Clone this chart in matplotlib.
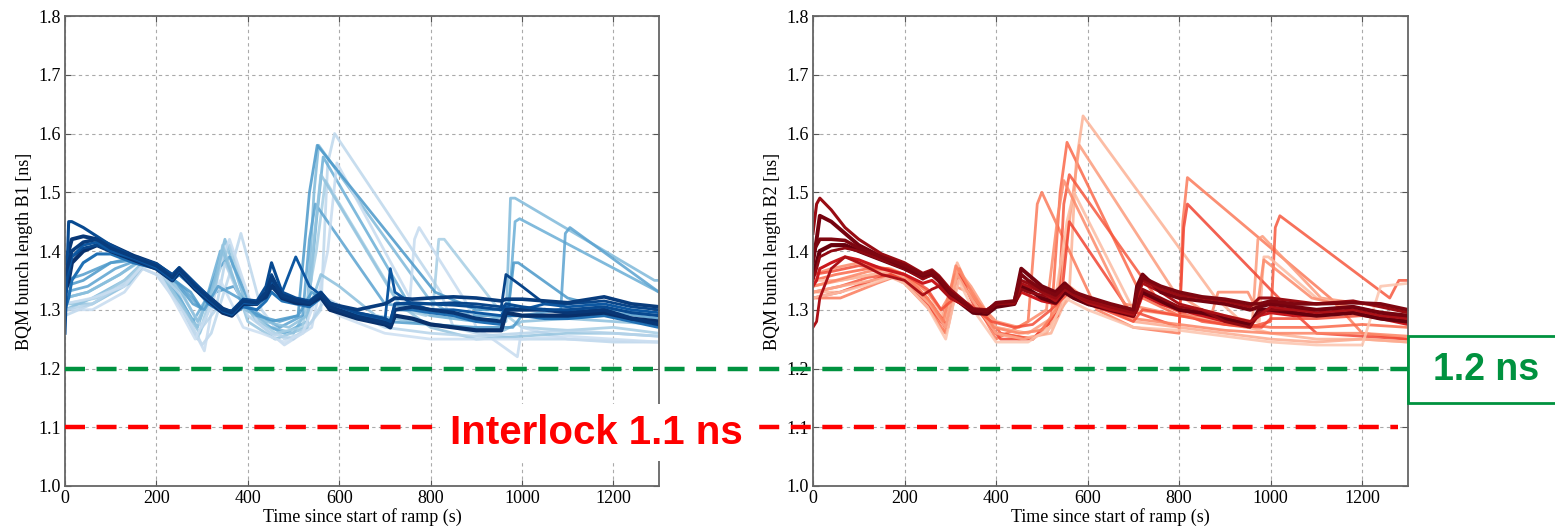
import matplotlib
matplotlib.use("Agg")
import matplotlib.pyplot as plt
from matplotlib.lines import Line2D
from matplotlib.patches import Rectangle

# ---- bunch length traces, beam 1 (time in s, length in ns) ----
b1_t = [0, 8, 15, 40, 70, 100, 150, 200, 235, 250, 285, 315, 345, 365, 390, 420, 440, 452, 475,
        505, 535, 560, 580, 640, 700, 712, 722, 760, 800, 850, 900, 955, 965, 1000, 1050, 1100,
        1180, 1240, 1300]
b1_d1 = [1.36, 1.38, 1.40, 1.415, 1.42, 1.405, 1.39, 1.375, 1.355, 1.37, 1.34, 1.32, 1.30, 1.295,
         1.315, 1.312, 1.33, 1.355, 1.325, 1.317, 1.312, 1.328, 1.31, 1.30, 1.31, 1.315, 1.32,
         1.318, 1.32, 1.322, 1.32, 1.315, 1.318, 1.318, 1.315, 1.312, 1.322, 1.31, 1.305]
b1_d2 = [1.33, 1.35, 1.38, 1.40, 1.41, 1.40, 1.385, 1.37, 1.35, 1.365, 1.335, 1.315, 1.295, 1.29,
         1.31, 1.31, 1.325, 1.345, 1.32, 1.312, 1.31, 1.322, 1.30, 1.285, 1.275, 1.27, 1.29,
         1.285, 1.275, 1.27, 1.265, 1.265, 1.295, 1.29, 1.29, 1.29, 1.295, 1.285, 1.28]
b1_d3 = [1.26, 1.45, 1.45, 1.44, 1.425, 1.41, 1.39, 1.378, 1.36, 1.372, 1.345, 1.322, 1.30, 1.298,
         1.318, 1.315, 1.34, 1.38, 1.33, 1.32, 1.315, 1.33, 1.312, 1.295, 1.285, 1.28, 1.31,
         1.312, 1.31, 1.308, 1.305, 1.30, 1.31, 1.305, 1.30, 1.30, 1.305, 1.295, 1.29]
b1_d4 = [1.35, 1.37, 1.39, 1.41, 1.415, 1.40, 1.388, 1.372, 1.352, 1.368, 1.338, 1.318, 1.298,
         1.292, 1.312, 1.31, 1.32, 1.35, 1.33, 1.39, 1.34, 1.325, 1.305, 1.29, 1.28, 1.37, 1.33,
         1.31, 1.30, 1.30, 1.295, 1.29, 1.305, 1.30, 1.31, 1.305, 1.31, 1.30, 1.295]
b1_d5 = [1.38, 1.40, 1.42, 1.425, 1.42, 1.41, 1.392, 1.378, 1.358, 1.37, 1.342, 1.322, 1.302,
         1.296, 1.316, 1.314, 1.322, 1.34, 1.322, 1.315, 1.31, 1.325, 1.305, 1.288, 1.278, 1.275,
         1.30, 1.305, 1.30, 1.295, 1.285, 1.28, 1.30, 1.30, 1.30, 1.295, 1.30, 1.285, 1.275]
b1_d6 = [1.34, 1.36, 1.39, 1.405, 1.41, 1.40, 1.386, 1.37, 1.35, 1.366, 1.336, 1.316, 1.297,
         1.292, 1.312, 1.31, 1.33, 1.36, 1.325, 1.315, 1.312, 1.33, 1.31, 1.295, 1.285, 1.28,
         1.31, 1.31, 1.31, 1.312, 1.31, 1.305, 1.36, 1.34, 1.31, 1.31, 1.315, 1.305, 1.30]
b1_m1 = [1.30, 1.32, 1.35, 1.38, 1.395, 1.395, 1.38, 1.37, 1.35, 1.36, 1.335, 1.31, 1.295, 1.29,
         1.305, 1.30, 1.315, 1.33, 1.315, 1.31, 1.305, 1.32, 1.30, 1.29, 1.282, 1.28, 1.30, 1.30,
         1.295, 1.29, 1.28, 1.275, 1.29, 1.29, 1.285, 1.285, 1.29, 1.28, 1.27]

b1_l1_t = [0, 60, 130, 170, 200, 260, 300, 320, 360, 385, 430, 480, 520, 560, 575, 590, 822, 850,
           900, 1000, 1100, 1200, 1300]
b1_l1_y = [1.29, 1.31, 1.34, 1.37, 1.36, 1.30, 1.24, 1.26, 1.36, 1.43, 1.30, 1.25, 1.26, 1.30,
           1.55, 1.60, 1.33, 1.27, 1.26, 1.25, 1.25, 1.245, 1.245]
b1_l2_t = [0, 60, 130, 170, 200, 250, 290, 330, 350, 400, 450, 500, 530, 545, 555, 795, 830, 900,
           965, 975, 985, 1290, 1300]
b1_l2_y = [1.30, 1.32, 1.35, 1.38, 1.37, 1.32, 1.27, 1.36, 1.42, 1.30, 1.27, 1.26, 1.30, 1.50,
           1.58, 1.32, 1.30, 1.28, 1.28, 1.49, 1.49, 1.35, 1.35]
b1_l3_t = [0, 50, 120, 165, 200, 245, 280, 310, 340, 380, 420, 480, 530, 550, 565, 760, 800, 900,
           970, 985, 995, 1300]
b1_l3_y = [1.32, 1.33, 1.36, 1.385, 1.375, 1.33, 1.28, 1.32, 1.40, 1.33, 1.28, 1.26, 1.28, 1.45,
           1.56, 1.30, 1.29, 1.28, 1.29, 1.45, 1.455, 1.33]
b1_l4_t = [0, 70, 140, 175, 200, 250, 290, 330, 360, 410, 460, 520, 550, 570, 740, 790, 805, 818,
           830, 950, 1000, 1100, 1200, 1300]
b1_l4_y = [1.31, 1.32, 1.355, 1.385, 1.37, 1.31, 1.25, 1.35, 1.41, 1.29, 1.26, 1.27, 1.40, 1.52,
           1.30, 1.29, 1.30, 1.42, 1.42, 1.30, 1.27, 1.265, 1.27, 1.26]
b1_l5_t = [0, 50, 110, 160, 200, 255, 300, 335, 360, 410, 470, 520, 535, 548, 700, 800, 900,
           1000, 1085, 1095, 1105, 1300]
b1_l5_y = [1.33, 1.34, 1.37, 1.385, 1.375, 1.34, 1.30, 1.37, 1.39, 1.30, 1.27, 1.29, 1.42, 1.48,
           1.31, 1.30, 1.29, 1.29, 1.30, 1.43, 1.44, 1.33]
b1_l6_t = [0, 60, 130, 170, 200, 265, 305, 340, 360, 420, 480, 540, 575, 595, 755, 765, 775, 880,
           900, 990, 1000, 1100, 1300]
b1_l6_y = [1.30, 1.30, 1.33, 1.37, 1.36, 1.29, 1.23, 1.38, 1.42, 1.28, 1.24, 1.27, 1.40, 1.55,
           1.32, 1.42, 1.44, 1.31, 1.27, 1.22, 1.27, 1.25, 1.245]
b1_l7_t = [0, 40, 100, 160, 200, 240, 275, 300, 330, 370, 400, 450, 510, 535, 552, 810, 900, 970,
           982, 992, 1100, 1200, 1300]
b1_l7_y = [1.34, 1.35, 1.38, 1.39, 1.375, 1.35, 1.33, 1.30, 1.33, 1.34, 1.30, 1.28, 1.29, 1.50,
           1.58, 1.33, 1.30, 1.30, 1.38, 1.38, 1.32, 1.30, 1.29]
b1_l8_t = [0, 60, 140, 175, 200, 255, 295, 325, 345, 400, 460, 530, 545, 560, 730, 800, 900, 1000,
           1100, 1200, 1300]
b1_l8_y = [1.31, 1.31, 1.345, 1.38, 1.37, 1.31, 1.26, 1.32, 1.41, 1.28, 1.25, 1.27, 1.42, 1.53,
           1.31, 1.27, 1.25, 1.255, 1.26, 1.26, 1.255]
b1_l9_t = [0, 60, 140, 175, 200, 260, 300, 330, 350, 400, 450, 500, 540, 570, 620, 700, 800, 900,
           1000, 1100, 1200, 1300]
b1_l9_y = [1.30, 1.31, 1.35, 1.38, 1.37, 1.32, 1.27, 1.30, 1.38, 1.29, 1.26, 1.25, 1.28, 1.32,
           1.30, 1.27, 1.26, 1.255, 1.26, 1.265, 1.26, 1.255]
b1_l10_t = [0, 50, 120, 170, 200, 255, 290, 320, 345, 395, 440, 490, 530, 560, 600, 680, 760, 860,
            960, 1000, 1100, 1200, 1300]
b1_l10_y = [1.32, 1.33, 1.36, 1.385, 1.375, 1.33, 1.28, 1.33, 1.40, 1.30, 1.28, 1.27, 1.29, 1.36,
            1.34, 1.29, 1.28, 1.27, 1.265, 1.28, 1.285, 1.28, 1.275]
b1_l11_t = [0, 60, 130, 170, 200, 250, 285, 310, 340, 390, 430, 480, 520, 550, 600, 700, 800, 900,
            1000, 1100, 1200, 1300]
b1_l11_y = [1.31, 1.32, 1.34, 1.375, 1.37, 1.30, 1.25, 1.29, 1.35, 1.27, 1.26, 1.245, 1.26, 1.32,
            1.29, 1.26, 1.25, 1.25, 1.25, 1.255, 1.25, 1.245]
b1_l12_t = [0, 40, 100, 160, 200, 245, 280, 305, 335, 380, 420, 470, 510, 540, 580, 640, 700, 800,
            900, 980, 1000, 1100, 1200, 1300]
b1_l12_y = [1.35, 1.36, 1.38, 1.385, 1.375, 1.345, 1.31, 1.30, 1.34, 1.32, 1.29, 1.28, 1.29, 1.33,
            1.31, 1.29, 1.28, 1.275, 1.27, 1.27, 1.29, 1.29, 1.295, 1.285]

# ---- bunch length traces, beam 2 ----
b2_t = [0, 8, 15, 40, 70, 100, 150, 200, 240, 260, 275, 300, 350, 380, 400, 440, 455, 470, 500,
        530, 550, 570, 600, 650, 700, 708, 720, 760, 800, 850, 900, 955, 975, 1000, 1050, 1100,
        1180, 1240, 1300]
b2_d1 = [1.40, 1.41, 1.42, 1.42, 1.418, 1.405, 1.39, 1.376, 1.36, 1.365, 1.355, 1.33, 1.30, 1.298,
         1.312, 1.315, 1.36, 1.35, 1.335, 1.325, 1.34, 1.33, 1.322, 1.31, 1.30, 1.33, 1.355, 1.34,
         1.33, 1.322, 1.318, 1.31, 1.31, 1.315, 1.31, 1.31, 1.312, 1.31, 1.30]
b2_d2 = [1.43, 1.48, 1.49, 1.47, 1.44, 1.42, 1.395, 1.38, 1.362, 1.368, 1.358, 1.335, 1.302, 1.30,
         1.31, 1.312, 1.35, 1.345, 1.33, 1.32, 1.335, 1.325, 1.315, 1.305, 1.295, 1.33, 1.35,
         1.335, 1.325, 1.32, 1.315, 1.305, 1.32, 1.32, 1.315, 1.31, 1.315, 1.305, 1.295]
b2_d3 = [1.36, 1.38, 1.40, 1.41, 1.41, 1.40, 1.385, 1.37, 1.355, 1.36, 1.35, 1.325, 1.295, 1.293,
         1.305, 1.31, 1.34, 1.335, 1.32, 1.312, 1.33, 1.32, 1.31, 1.30, 1.29, 1.31, 1.33, 1.315,
         1.30, 1.295, 1.285, 1.275, 1.30, 1.30, 1.295, 1.29, 1.295, 1.285, 1.28]
b2_d4 = [1.27, 1.28, 1.32, 1.37, 1.39, 1.38, 1.36, 1.35, 1.325, 1.335, 1.34, 1.32, 1.30, 1.295,
         1.31, 1.312, 1.345, 1.34, 1.33, 1.315, 1.335, 1.325, 1.312, 1.30, 1.292, 1.32, 1.345,
         1.33, 1.31, 1.30, 1.29, 1.28, 1.29, 1.305, 1.30, 1.295, 1.30, 1.29, 1.285]
b2_d5 = [1.38, 1.42, 1.46, 1.45, 1.43, 1.41, 1.39, 1.372, 1.358, 1.362, 1.352, 1.328, 1.30, 1.296,
         1.31, 1.313, 1.37, 1.36, 1.34, 1.33, 1.345, 1.33, 1.318, 1.308, 1.298, 1.34, 1.36, 1.33,
         1.32, 1.315, 1.31, 1.30, 1.305, 1.31, 1.305, 1.30, 1.305, 1.295, 1.29]
b2_d6 = [1.35, 1.37, 1.39, 1.40, 1.405, 1.40, 1.385, 1.37, 1.352, 1.36, 1.348, 1.322, 1.298, 1.297,
         1.31, 1.31, 1.335, 1.33, 1.325, 1.318, 1.338, 1.328, 1.315, 1.302, 1.29, 1.30, 1.335,
         1.32, 1.305, 1.30, 1.28, 1.27, 1.295, 1.30, 1.30, 1.30, 1.305, 1.295, 1.285]
b2_m1 = [1.34, 1.35, 1.37, 1.38, 1.39, 1.385, 1.37, 1.36, 1.345, 1.35, 1.34, 1.32, 1.30, 1.30,
         1.31, 1.31, 1.33, 1.325, 1.315, 1.31, 1.33, 1.32, 1.31, 1.298, 1.288, 1.30, 1.325, 1.31,
         1.30, 1.29, 1.28, 1.275, 1.29, 1.295, 1.29, 1.29, 1.295, 1.285, 1.275]

b2_l1_t = [0, 60, 130, 170, 200, 250, 285, 315, 345, 400, 450, 520, 560, 575, 590, 880, 950, 1000,
           1100, 1200, 1300]
b2_l1_y = [1.33, 1.33, 1.35, 1.36, 1.35, 1.31, 1.26, 1.38, 1.33, 1.26, 1.25, 1.26, 1.33, 1.55,
           1.63, 1.32, 1.27, 1.26, 1.25, 1.25, 1.245]
b2_l2_t = [0, 60, 140, 175, 200, 255, 290, 320, 350, 400, 470, 490, 500, 620, 700, 800, 808, 818,
           1130, 1200, 1300]
b2_l2_y = [1.32, 1.32, 1.345, 1.355, 1.345, 1.30, 1.26, 1.37, 1.32, 1.25, 1.28, 1.48, 1.50, 1.30,
           1.27, 1.26, 1.45, 1.525, 1.32, 1.26, 1.25]
b2_l3_t = [0, 50, 120, 165, 200, 250, 280, 310, 340, 400, 480, 520, 540, 555, 720, 800, 900, 1000,
           1100, 1200, 1300]
b2_l3_y = [1.35, 1.36, 1.37, 1.37, 1.36, 1.32, 1.28, 1.36, 1.33, 1.26, 1.25, 1.28, 1.50, 1.585,
           1.32, 1.29, 1.28, 1.27, 1.27, 1.275, 1.27]
b2_l4_t = [0, 60, 130, 170, 200, 250, 290, 315, 345, 400, 470, 530, 560, 582, 790, 850, 900, 960,
           972, 982, 1110, 1200, 1300]
b2_l4_y = [1.34, 1.35, 1.36, 1.365, 1.355, 1.32, 1.27, 1.37, 1.34, 1.27, 1.26, 1.29, 1.45, 1.58,
           1.33, 1.30, 1.29, 1.28, 1.42, 1.425, 1.32, 1.31, 1.30]
b2_l5_t = [0, 60, 120, 170, 200, 260, 295, 320, 350, 410, 480, 535, 548, 560, 760, 850, 950, 1000,
           1010, 1020, 1260, 1280, 1300]
b2_l5_y = [1.33, 1.34, 1.355, 1.36, 1.35, 1.31, 1.27, 1.36, 1.32, 1.26, 1.25, 1.29, 1.48, 1.53,
           1.31, 1.28, 1.27, 1.28, 1.44, 1.46, 1.32, 1.35, 1.35]
b2_l6_t = [0, 60, 130, 170, 200, 250, 285, 315, 345, 400, 460, 520, 555, 570, 700, 800, 900, 975,
           985, 995, 1100, 1200, 1300]
b2_l6_y = [1.35, 1.35, 1.36, 1.37, 1.36, 1.33, 1.29, 1.35, 1.33, 1.27, 1.26, 1.27, 1.45, 1.50,
           1.30, 1.29, 1.28, 1.28, 1.39, 1.39, 1.32, 1.30, 1.29]
b2_l7_t = [0, 60, 130, 170, 200, 260, 290, 320, 350, 410, 480, 540, 560, 690, 800, 810, 818, 1030,
           1100, 1200, 1300]
b2_l7_y = [1.32, 1.33, 1.35, 1.36, 1.35, 1.30, 1.27, 1.36, 1.31, 1.25, 1.25, 1.30, 1.45, 1.30,
           1.27, 1.44, 1.48, 1.31, 1.26, 1.255, 1.25]
b2_l8_t = [0, 40, 100, 160, 200, 250, 280, 310, 340, 400, 450, 510, 535, 548, 680, 800, 870, 885,
           950, 970, 985, 1090, 1200, 1300]
b2_l8_y = [1.36, 1.37, 1.38, 1.37, 1.36, 1.33, 1.30, 1.34, 1.33, 1.28, 1.27, 1.30, 1.46, 1.52,
           1.31, 1.29, 1.29, 1.33, 1.33, 1.30, 1.385, 1.32, 1.30, 1.29]
b2_l9_t = [0, 60, 130, 170, 200, 255, 290, 315, 345, 400, 460, 510, 540, 570, 620, 700, 800, 900,
           1000, 1100, 1200, 1300]
b2_l9_y = [1.33, 1.34, 1.35, 1.355, 1.35, 1.31, 1.27, 1.36, 1.32, 1.26, 1.25, 1.26, 1.30, 1.33,
           1.31, 1.28, 1.27, 1.26, 1.25, 1.245, 1.25, 1.245]
b2_l10_t = [0, 50, 120, 165, 200, 250, 285, 312, 340, 395, 450, 500, 530, 560, 610, 700, 800, 900,
            1000, 1100, 1200, 1300]
b2_l10_y = [1.34, 1.35, 1.365, 1.37, 1.36, 1.32, 1.28, 1.375, 1.34, 1.27, 1.26, 1.265, 1.30, 1.34,
            1.31, 1.285, 1.275, 1.265, 1.26, 1.26, 1.26, 1.255]
b2_l11_t = [0, 60, 130, 170, 200, 250, 290, 318, 350, 400, 470, 520, 550, 600, 700, 800, 900, 1000,
            1100, 1200, 1240, 1300]
b2_l11_y = [1.32, 1.33, 1.345, 1.355, 1.345, 1.305, 1.25, 1.35, 1.30, 1.245, 1.245, 1.27, 1.32,
            1.30, 1.27, 1.265, 1.255, 1.245, 1.24, 1.24, 1.34, 1.345]
b2_l12_t = [0, 40, 100, 160, 200, 250, 280, 310, 340, 390, 440, 480, 520, 560, 620, 700, 720, 800,
            900, 980, 1000, 1100, 1200, 1300]
b2_l12_y = [1.36, 1.365, 1.375, 1.37, 1.36, 1.335, 1.30, 1.32, 1.31, 1.28, 1.27, 1.275, 1.30, 1.33,
            1.305, 1.28, 1.30, 1.29, 1.275, 1.27, 1.285, 1.285, 1.29, 1.28]

# thresholds (ns) and the axis layout
green_level = 1.2
interlock_level = 1.1
interlock_end = 1278
x_ticks = [0, 200, 400, 600, 800, 1000, 1200]
y_ticks = [1.0, 1.1, 1.2, 1.3, 1.4, 1.5, 1.6, 1.7, 1.8]

serif = ["Liberation Serif", "DejaVu Serif"]
green = "#00923f"

fig = plt.figure(figsize=(15.55, 5.27), dpi=100)
ax1 = fig.add_axes([0.0418, 0.0778, 0.382, 0.8918])
ax2 = fig.add_axes([0.5228, 0.0778, 0.3827, 0.8918])


def draw_beam(ax, cmap_name, t_dark, dark, light, label):
    cmap = plt.get_cmap(cmap_name)
    light_shades = [0.28, 0.45, 0.5, 0.35, 0.55, 0.25, 0.6, 0.4, 0.3, 0.42, 0.22, 0.58]
    for (t, y), s in zip(light, light_shades):
        ax.plot(t, y, color=cmap(s), lw=2.0, alpha=0.85, solid_joinstyle="round")
    dark_shades = [0.75, 1.0, 0.92, 0.85, 0.97, 0.9, 0.95]
    widths = [2.2, 3.0, 2.0, 2.0, 2.8, 2.2, 2.6]
    for y, s, w in zip(dark, dark_shades, widths):
        ax.plot(t_dark, y, color=cmap(s), lw=w, solid_joinstyle="round")
    ax.set_xlim(0, 1300)
    ax.set_ylim(1.0, 1.8)
    ax.set_xticks(x_ticks)
    ax.set_yticks(y_ticks)
    ax.set_yticklabels([f"{v:.1f}" for v in y_ticks])
    ax.grid(True, color="#aaaaaa", linestyle=(0, (3, 3)), lw=0.8)
    ax.tick_params(direction="in", top=True, right=True, length=4, color="#555555",
                   labelsize=13, pad=3)
    for lab in ax.get_xticklabels() + ax.get_yticklabels():
        lab.set_family(serif)
    for sp in ax.spines.values():
        sp.set_color("#666666")
        sp.set_linewidth(1.3)
    ax.set_xlabel("Time since start of ramp (s)", family=serif, fontsize=13, labelpad=1)
    ax.set_ylabel(label, family=serif, fontsize=13, labelpad=4)


draw_beam(ax1, "Blues", b1_t,
          [b1_m1, b1_d2, b1_d6, b1_d4, b1_d5, b1_d3, b1_d1],
          [(b1_l1_t, b1_l1_y), (b1_l2_t, b1_l2_y), (b1_l3_t, b1_l3_y), (b1_l4_t, b1_l4_y),
           (b1_l5_t, b1_l5_y), (b1_l6_t, b1_l6_y), (b1_l7_t, b1_l7_y), (b1_l8_t, b1_l8_y),
           (b1_l9_t, b1_l9_y), (b1_l10_t, b1_l10_y), (b1_l11_t, b1_l11_y),
           (b1_l12_t, b1_l12_y)],
          "BQM bunch length B1 [ns]")
draw_beam(ax2, "Reds", b2_t,
          [b2_m1, b2_d3, b2_d6, b2_d4, b2_d5, b2_d2, b2_d1],
          [(b2_l1_t, b2_l1_y), (b2_l2_t, b2_l2_y), (b2_l3_t, b2_l3_y), (b2_l4_t, b2_l4_y),
           (b2_l5_t, b2_l5_y), (b2_l6_t, b2_l6_y), (b2_l7_t, b2_l7_y), (b2_l8_t, b2_l8_y),
           (b2_l9_t, b2_l9_y), (b2_l10_t, b2_l10_y), (b2_l11_t, b2_l11_y),
           (b2_l12_t, b2_l12_y)],
          "BQM bunch length B2 [ns]")

# threshold lines run across both panels, so place them in figure coordinates
to_fig = fig.transFigure.inverted()
g0 = to_fig.transform(ax1.transData.transform((0, green_level)))
g1 = to_fig.transform(ax2.transData.transform((1300, green_level)))
r0 = to_fig.transform(ax1.transData.transform((0, interlock_level)))
r1 = to_fig.transform(ax2.transData.transform((interlock_end, interlock_level)))

fig.add_artist(Line2D([g0[0], g1[0]], [g0[1], g1[1]], transform=fig.transFigure,
                      color=green, lw=3.2, dashes=(4.5, 2.6), zorder=5))
fig.add_artist(Line2D([r0[0], r1[0]], [r0[1], r1[1]], transform=fig.transFigure,
                      color="#ff0000", lw=3.2, dashes=(4.5, 2.6), zorder=5))

fig.text(0.3835, 0.179, "Interlock 1.1 ns", color="#ff0000", fontsize=29, fontweight="bold",
         family=["Liberation Sans Narrow", "Liberation Sans", "DejaVu Sans"],
         ha="center", va="center", zorder=7,
         bbox=dict(facecolor="white", edgecolor="none", pad=7))

fig.add_artist(Rectangle((g1[0], 0.2353), 0.1, 0.127, transform=fig.transFigure,
                         facecolor="white", edgecolor=green, lw=2, zorder=6))
fig.text(0.9555, 0.298, "1.2 ns", color=green, fontsize=27, fontweight="bold",
         family=["Liberation Sans", "DejaVu Sans"], ha="center", va="center", zorder=7)

fig.savefig("out.png", dpi=100, facecolor="white")
